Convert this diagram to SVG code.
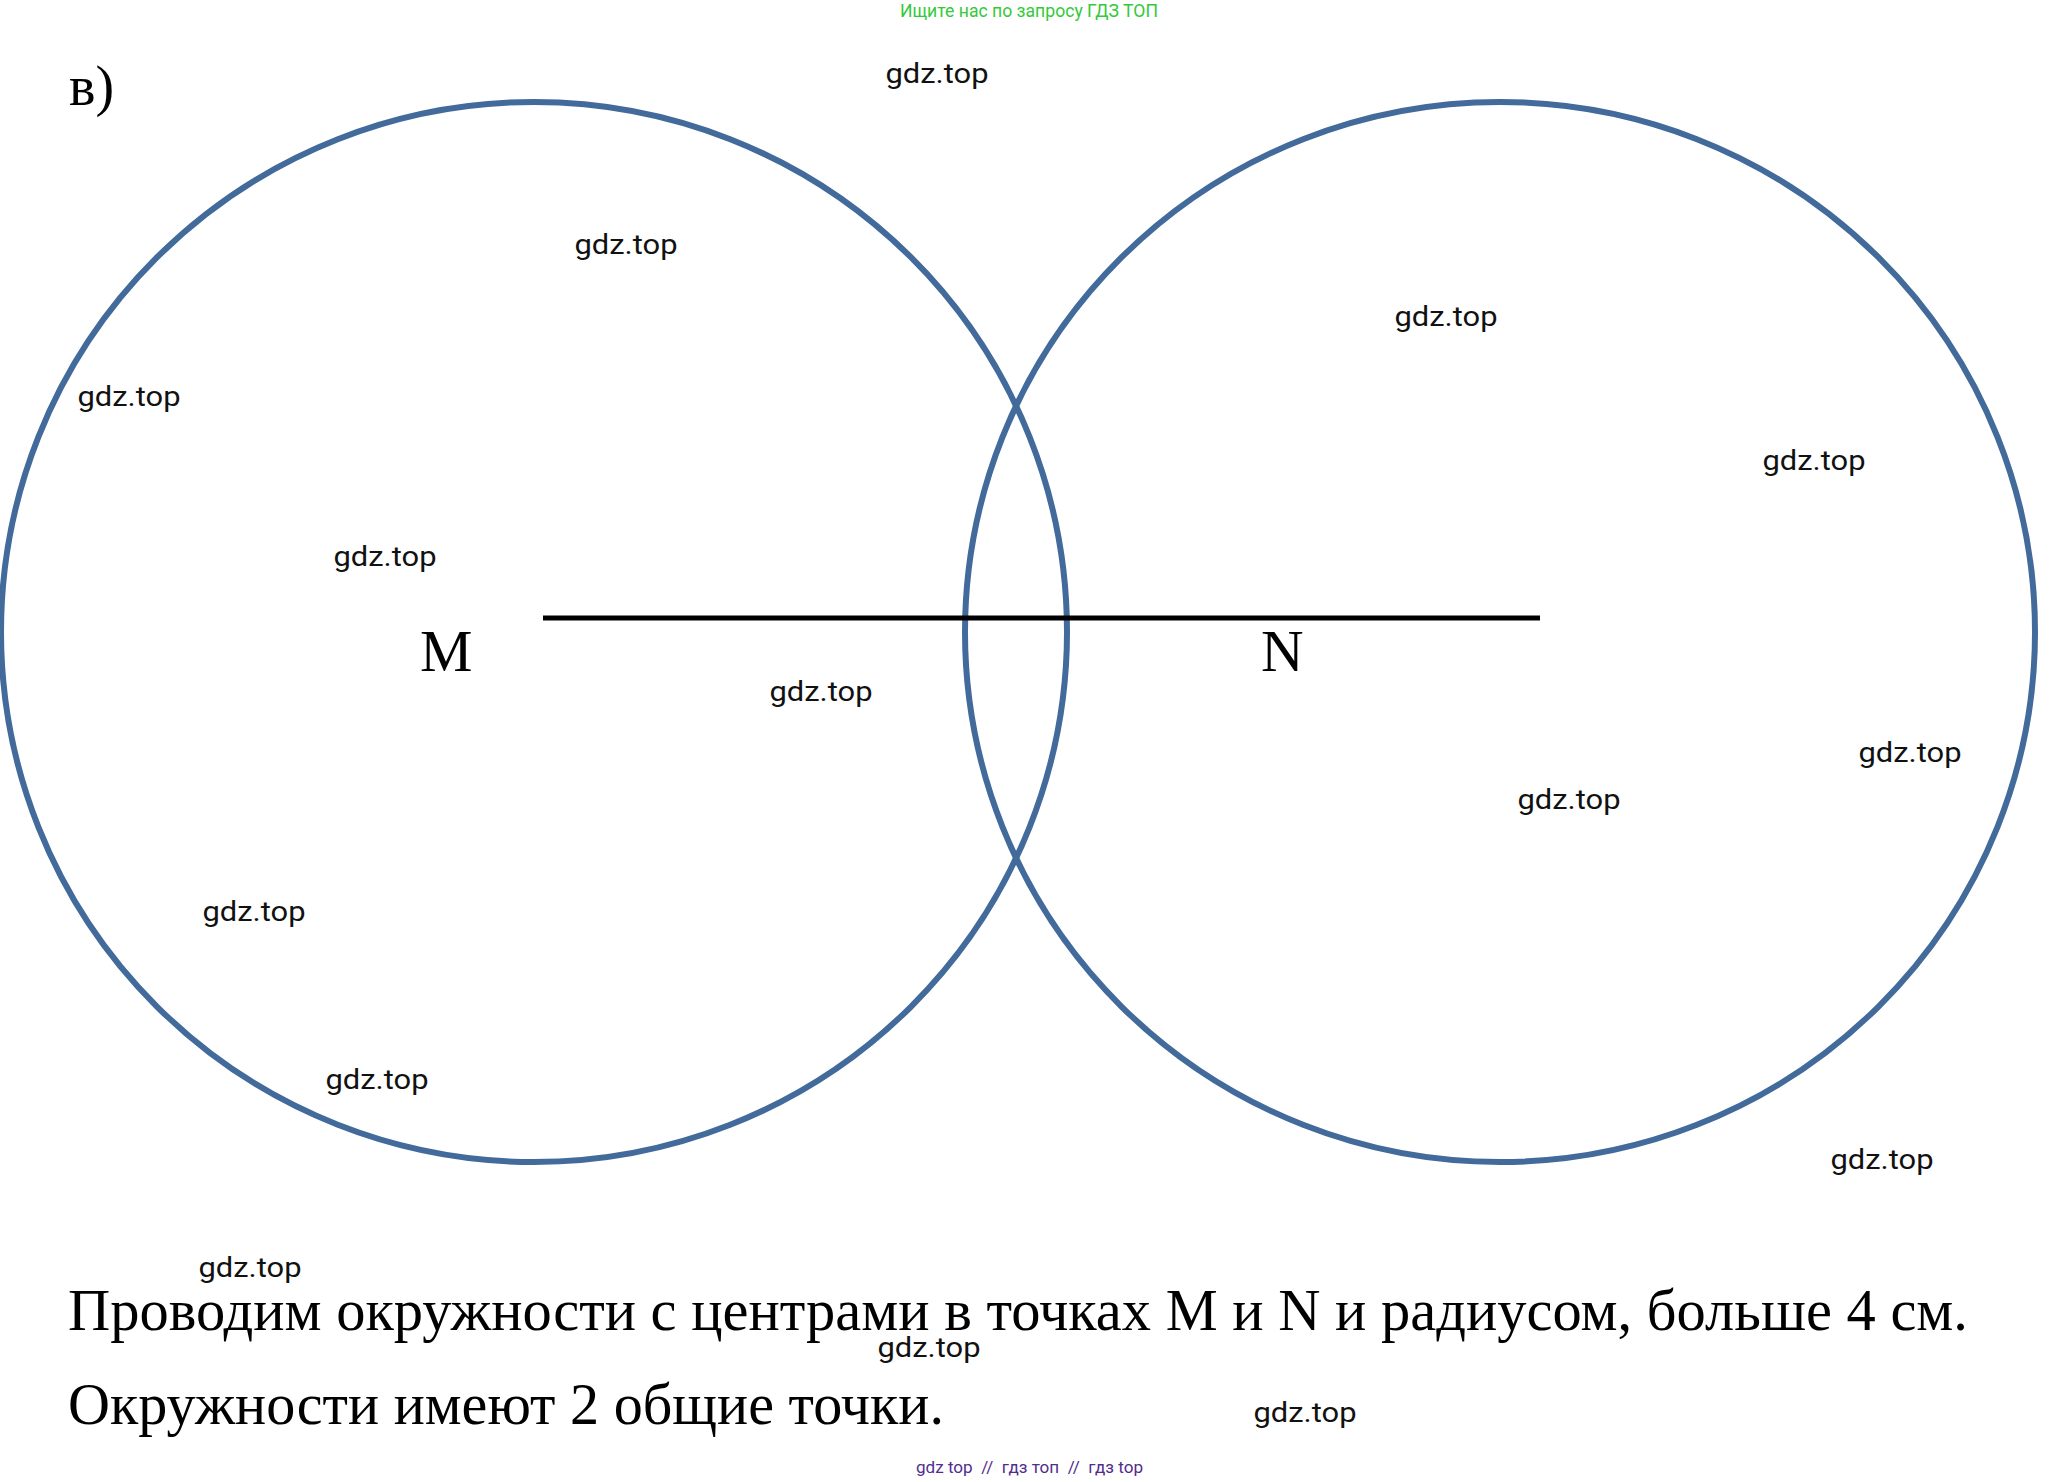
<svg xmlns="http://www.w3.org/2000/svg" width="2061" height="1482" viewBox="0 0 2061 1482">
<style>
.circ{fill:none;stroke:#426A9B;stroke-width:6}
.wm{font-family:Roboto,"Liberation Sans",sans-serif;font-size:27px;fill:#111;text-anchor:middle}
.serif{font-family:"Liberation Serif","Times New Roman",serif;fill:#000}
</style>
<rect width="2061" height="1482" fill="#fff"/>
<text x="900" y="17" font-family="Roboto, 'Liberation Sans', sans-serif" font-size="18" fill="#33C93A" textLength="258" lengthAdjust="spacingAndGlyphs">Ищите нас по запросу ГДЗ ТОП</text>
<text class="serif" x="69" y="105" font-size="56">в)</text>
<g id="circle-M"><ellipse class="circ" cx="534" cy="632" rx="533" ry="530"/></g>
<g id="circle-N"><ellipse class="circ" cx="1500" cy="632" rx="535" ry="530"/></g>
<g id="connectors"><line x1="543" y1="618" x2="1540" y2="618" stroke="#000" stroke-width="5"/></g>
<g id="label-M"><text class="serif" x="420" y="671" font-size="59">M</text></g>
<g id="label-N"><text class="serif" x="1261" y="671" font-size="59">N</text></g>
<g id="watermarks">
<text class="wm" x="937" y="83" textLength="103" lengthAdjust="spacingAndGlyphs">gdz.top</text>
<text class="wm" x="626" y="254" textLength="103" lengthAdjust="spacingAndGlyphs">gdz.top</text>
<text class="wm" x="129" y="406" textLength="103" lengthAdjust="spacingAndGlyphs">gdz.top</text>
<text class="wm" x="385" y="566" textLength="103" lengthAdjust="spacingAndGlyphs">gdz.top</text>
<text class="wm" x="821" y="701" textLength="103" lengthAdjust="spacingAndGlyphs">gdz.top</text>
<text class="wm" x="1446" y="326" textLength="103" lengthAdjust="spacingAndGlyphs">gdz.top</text>
<text class="wm" x="1814" y="470" textLength="103" lengthAdjust="spacingAndGlyphs">gdz.top</text>
<text class="wm" x="1910" y="762" textLength="103" lengthAdjust="spacingAndGlyphs">gdz.top</text>
<text class="wm" x="1569" y="809" textLength="103" lengthAdjust="spacingAndGlyphs">gdz.top</text>
<text class="wm" x="254" y="921" textLength="103" lengthAdjust="spacingAndGlyphs">gdz.top</text>
<text class="wm" x="377" y="1089" textLength="103" lengthAdjust="spacingAndGlyphs">gdz.top</text>
<text class="wm" x="1882" y="1169" textLength="103" lengthAdjust="spacingAndGlyphs">gdz.top</text>
<text class="wm" x="250" y="1277" textLength="103" lengthAdjust="spacingAndGlyphs">gdz.top</text>
<text class="wm" x="929" y="1357" textLength="103" lengthAdjust="spacingAndGlyphs">gdz.top</text>
<text class="wm" x="1305" y="1422" textLength="103" lengthAdjust="spacingAndGlyphs">gdz.top</text>
</g>
<text class="serif" x="68" y="1330" font-size="59" textLength="1900" lengthAdjust="spacingAndGlyphs">Проводим окружности с центрами в точках M и N и радиусом, больше 4 см.</text>
<text class="serif" x="68" y="1424" font-size="59" textLength="876" lengthAdjust="spacingAndGlyphs">Окружности имеют 2 общие точки.</text>
<text x="916" y="1473" font-family="Roboto, 'Liberation Sans', sans-serif" font-size="16" fill="#522D90" style="white-space:pre" textLength="227" lengthAdjust="spacingAndGlyphs">gdz top  //  гдз топ  //  гдз top</text>
</svg>
